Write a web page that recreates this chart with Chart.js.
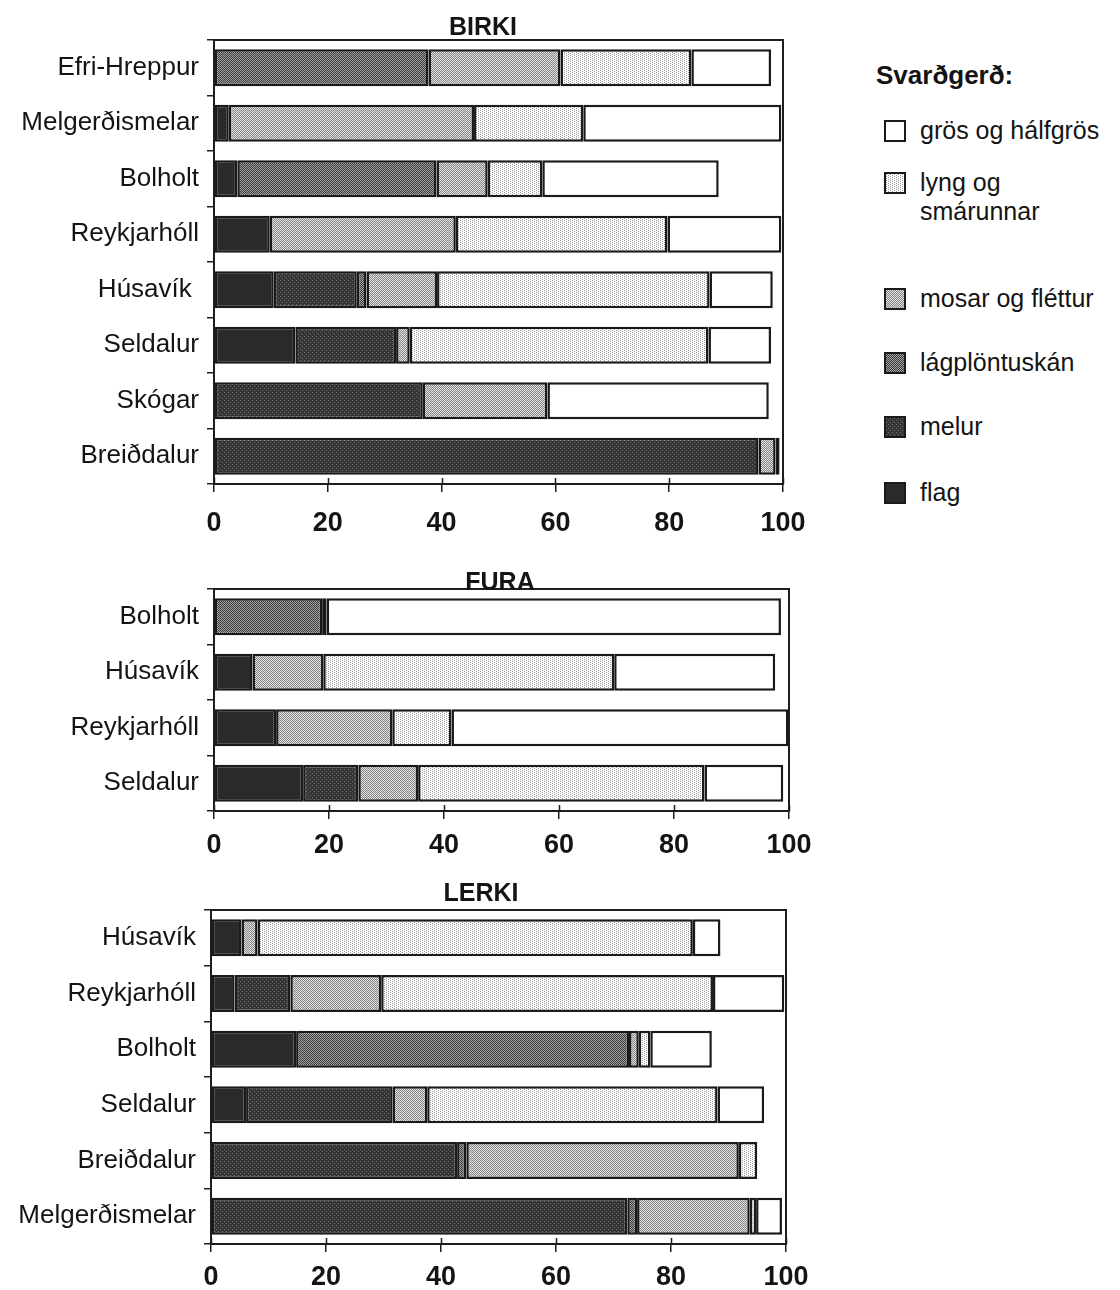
<!DOCTYPE html>
<html>
<head>
<meta charset="utf-8">
<title>Svarðgerð undir birki, furu og lerki</title>
<script src="https://cdn.jsdelivr.net/npm/chart.js@4.4.0/dist/chart.umd.min.js"></script>
<style>
  html, body { margin: 0; padding: 0; background: #fff; }
  #page { position: relative; width: 1120px; height: 1290px; overflow: hidden;
          font-family: "Liberation Sans", Arial, Helvetica, sans-serif; color: #141414; }
  #page canvas { position: absolute; left: 0; }
  #legend-title { position: absolute; left: 876px; top: 60px; font-weight: bold; font-size: 26px; line-height: 30px; }
  .lg-item { position: absolute; left: 884px; display: flex; align-items: flex-start; }
  .lg-box { width: 18px; height: 18px; border: 2px solid #1a1a1a; flex: none; margin-top: 4px; }
  .lg-text { margin-left: 14px; font-size: 25px; line-height: 29px; max-width: 200px; }
</style>
</head>
<body>
<div id="page">
  <canvas id="birki" width="830" height="545" style="top:0px"></canvas>
  <canvas id="fura" width="830" height="320" style="top:545px"></canvas>
  <canvas id="lerki" width="830" height="425" style="top:865px"></canvas>
  <div id="legend-title">Svarðgerð:</div>
</div>
<script>
// Ground-cover classes, stacked left to right
const seriesNames = ['flag', 'melur', 'lágplöntuskán', 'mosar og fléttur', 'lyng og smárunnar', 'grös og hálfgrös'];
const xTicks = [0, 20, 40, 60, 80, 100];

// BIRKI (% cover)
const birkiSites  = ['Efri-Hreppur', 'Melgerðismelar', 'Bolholt', 'Reykjarhóll', 'Húsavík ', 'Seldalur', 'Skógar', 'Breiðdalur'];
const birkiFlag   = [0,    2.6,  4.1,  9.8, 10.5, 14.3,  0,    0];
const birkiMelur  = [0,    0,    0,    0,   14.6, 17.7, 36.7, 95.7];
const birkiLagpl  = [37.7, 0,   35.0,  0,    1.7,  0,    0,    0];
const birkiMosar  = [23.2, 43.1, 9.0, 32.7, 12.4,  2.4, 21.9,  3.0];
const birkiLyng   = [23.0, 19.2, 9.6, 37.2, 47.9, 52.5,  0,    0.7];
const birkiGros   = [14.0, 34.8, 31.0, 20.0, 11.1, 11.0, 38.9, 0];

// FURA (% cover)
const furaSites  = ['Bolholt', 'Húsavík', 'Reykjarhóll', 'Seldalur'];
const furaFlag   = [0,    6.7, 10.8, 15.5];
const furaMelur  = [0,    0,    0,    9.6];
const furaLagpl  = [18.8, 0,    0,    0];
const furaMosar  = [0,   12.3, 20.2, 10.4];
const furaLyng   = [0.8, 50.6, 10.3, 49.8];
const furaGros   = [79.0, 28.0, 58.6, 13.7];

// LERKI (% cover)
const lerkiSites  = ['Húsavík', 'Reykjarhóll', 'Bolholt', 'Seldalur', 'Breiðdalur', 'Melgerðismelar'];
const lerkiFlag   = [5.3,  4.1, 14.8,  6.1,  0,    0];
const lerkiMelur  = [0,    9.7,  0,   25.5, 42.8, 72.4];
const lerkiLagpl  = [0,    0,   57.9,  0,    1.6,  1.7];
const lerkiMosar  = [2.8, 15.8,  1.7,  6.0, 47.4, 19.6];
const lerkiLyng   = [75.7, 57.7, 2.0, 50.5,  3.2,  1.1];
const lerkiGros   = [4.8, 12.4, 10.7,  8.1,  0,    4.5];

const FONT = '"Liberation Sans", Arial, Helvetica, sans-serif';
Chart.defaults.font.family = FONT;
Chart.defaults.color = '#141414';

// Halftone-like fills for each class
function tile(w, h, base, dotColor, dots) {
  const c = document.createElement('canvas');
  c.width = w; c.height = h;
  const g = c.getContext('2d');
  g.fillStyle = base; g.fillRect(0, 0, w, h);
  g.fillStyle = dotColor;
  dots.forEach(([x, y]) => g.fillRect(x, y, 1, 1));
  return c;
}
const tiles = [
  tile(2, 2, '#2a2a2a', '#2a2a2a', []),                       // flag
  tile(4, 4, '#353535', '#6e6e6e', [[0, 0], [2, 2]]),         // melur
  tile(2, 2, '#3c3c3c', '#a2a2a2', [[0, 0], [1, 1]]),         // lágplöntuskán
  tile(2, 2, '#858585', '#e2e2e2', [[0, 0], [1, 1]]),         // mosar og fléttur
  tile(4, 2, '#ffffff', '#9a9a9a', [[0, 0], [2, 1]]),         // lyng og smárunnar
  tile(2, 2, '#ffffff', '#ffffff', [])                        // grös og hálfgrös
];
const ctx0 = document.createElement('canvas').getContext('2d');
const fills = tiles.map(t => ctx0.createPattern(t, 'repeat'));

// Frame around the plot area
const frame = {
  id: 'frame',
  afterDatasetsDraw(chart) {
    const { left, top, right, bottom } = chart.chartArea;
    const c = chart.ctx;
    c.save();
    c.strokeStyle = '#1e1e1e';
    c.lineWidth = 2;
    c.strokeRect(left, top, right - left, bottom - top);
    // short inward tick marks on the value axis
    const xs = chart.scales.x;
    c.lineWidth = 1.5;
    c.beginPath();
    xTicks.forEach(v => {
      const px = Math.round(xs.getPixelForValue(v)) + 0.5;
      c.moveTo(px, bottom);
      c.lineTo(px, bottom - 6);
    });
    c.stroke();
    c.restore();
  }
};

// Panel heading
const panelTitle = {
  id: 'panelTitle',
  afterDraw(chart, args, opts) {
    const c = chart.ctx;
    c.save();
    c.font = 'bold 25px ' + FONT;
    c.fillStyle = '#141414';
    c.textAlign = 'center';
    c.textBaseline = 'middle';
    c.fillText(opts.text, opts.x, opts.y);
    c.restore();
  }
};

function panel(id, title, sites, series, g) {
  const datasets = series.map((vals, i) => ({
    label: seriesNames[i],
    data: vals.map(v => (v ? v : null)),
    backgroundColor: fills[i],
    borderColor: '#1a1a1a',
    borderWidth: 2.5,
    borderSkipped: false,
    barPercentage: 0.83,
    categoryPercentage: 0.8
  }));
  const canvas = document.getElementById(id);
  return new Chart(canvas, {
    type: 'bar',
    data: { labels: sites, datasets },
    plugins: [frame, panelTitle],
    options: {
      indexAxis: 'y',
      responsive: false,
      animation: false,
      devicePixelRatio: 1,
      layout: { padding: { top: g.top, right: canvas.width - g.right, bottom: 0, left: 0 } },
      plugins: {
        legend: { display: false },
        tooltip: { enabled: false },
        panelTitle: { text: title, x: g.titleX, y: g.titleY }
      },
      scales: {
        x: {
          stacked: true, min: 0, max: 100,
          afterBuildTicks: s => { s.ticks = xTicks.map(v => ({ value: v })); },
          afterFit: s => { s.height = g.xh; },
          ticks: { font: { size: 27, weight: 'bold' }, color: '#141414', padding: g.xpad, maxRotation: 0 },
          grid: { drawOnChartArea: false, tickLength: 8, color: '#1e1e1e', lineWidth: 1.5 },
          border: { display: true, color: '#1e1e1e', width: 2 }
        },
        y: {
          stacked: true,
          afterFit: s => { s.width = g.left; },
          ticks: { font: { size: 26 }, color: '#141414', padding: 8 },
          grid: { drawOnChartArea: false, tickLength: 7, color: '#1e1e1e', lineWidth: 1.5 },
          border: { display: true, color: '#1e1e1e', width: 2 }
        }
      }
    }
  });
}

panel('birki', 'BIRKI', birkiSites,
  [birkiFlag, birkiMelur, birkiLagpl, birkiMosar, birkiLyng, birkiGros],
  { top: 40, left: 214, right: 783, xh: 61, xpad: 15, titleX: 483, titleY: 28 });

panel('fura', 'FURA', furaSites,
  [furaFlag, furaMelur, furaLagpl, furaMosar, furaLyng, furaGros],
  { top: 44, left: 214, right: 789, xh: 54, xpad: 10, titleX: 500, titleY: 38 });

panel('lerki', 'LERKI', lerkiSites,
  [lerkiFlag, lerkiMelur, lerkiLagpl, lerkiMosar, lerkiLyng, lerkiGros],
  { top: 45, left: 211, right: 786, xh: 46, xpad: 9, titleX: 481, titleY: 29 });

// Legend, topmost class first
const page = document.getElementById('page');
const legendTops = [116, 168, 284, 348, 412, 478];
[5, 4, 3, 2, 1, 0].forEach((si, k) => {
  const item = document.createElement('div');
  item.className = 'lg-item';
  item.style.top = legendTops[k] + 'px';
  const box = document.createElement('div');
  box.className = 'lg-box';
  box.style.backgroundImage = 'url(' + tiles[si].toDataURL() + ')';
  const txt = document.createElement('div');
  txt.className = 'lg-text';
  txt.textContent = seriesNames[si];
  item.appendChild(box);
  item.appendChild(txt);
  page.appendChild(item);
});
</script>
</body>
</html>
